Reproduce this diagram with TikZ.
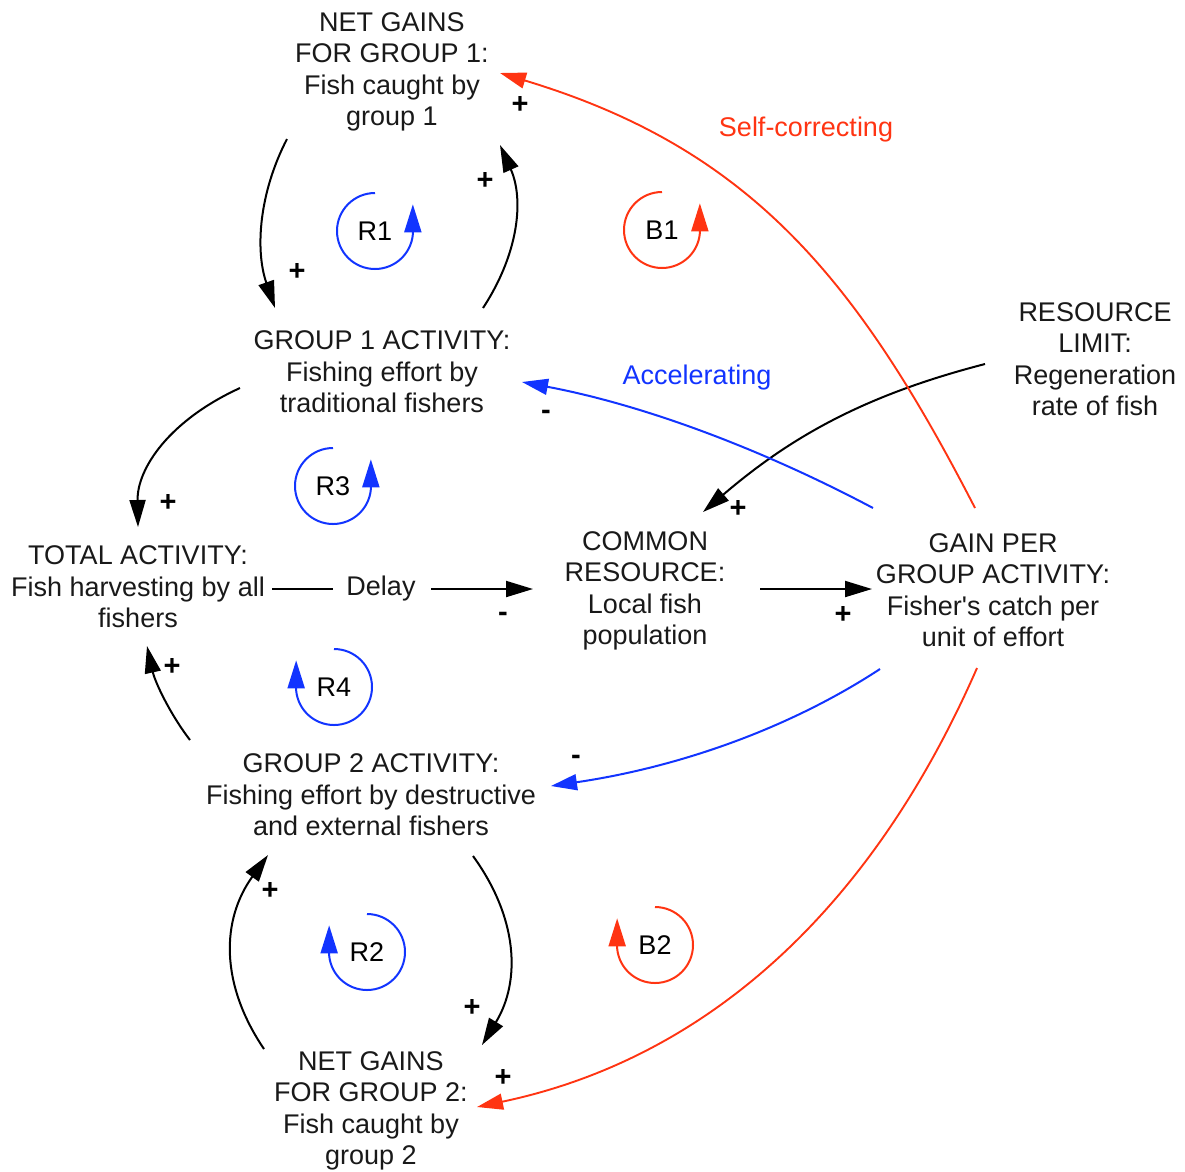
\documentclass[tikz,border=0pt]{standalone}
\usepackage{fontspec}
\setmainfont{Liberation Sans}[Ligatures=TeXOff]
\usetikzlibrary{arrows.meta,calc}
\definecolor{loopred}{RGB}{255,52,18}
\definecolor{loopblue}{RGB}{18,52,255}
\definecolor{ink}{RGB}{25,25,25}
\begin{document}
\begin{tikzpicture}[x=1pt,y=-1pt,
  every node/.style={inner sep=0pt, align=center},
  var/.style={font=\fontsize{27}{31.5}\selectfont, text=ink},
  tag/.style={font=\fontsize{27}{31.5}\selectfont},
  sign/.style={font=\fontsize{29}{29}\selectfont\bfseries, text=black},
  link/.style={line width=2pt, black, -{Triangle[length=27pt,width=16pt]}},
  redlink/.style={line width=1.9pt, loopred, -{Triangle[length=26pt,width=16pt]}},
  bluelink/.style={line width=2pt, loopblue, -{Triangle[length=26pt,width=16pt]}},
  loopmark/.style={line width=2pt, #1, -{Triangle[length=28pt,width=17pt]}},
]
\useasboundingbox (0,0) rectangle (1185,1171);

% ---- variables ----
\node[var] (net1) at (392,72) {NET GAINS\\FOR GROUP 1:\\Fish caught by\\group 1};
\node[var] (g1) at (382,372) {GROUP 1 ACTIVITY:\\Fishing effort by\\traditional fishers};
\node[var] (total) at (138,587) {TOTAL ACTIVITY:\\Fish harvesting by all\\fishers};
\node[var] (delay) at (381,589) {Delay};
\node[var] (common) at (645,591) {COMMON\\RESOURCE:\\Local fish\\population};
\node[var] (gain) at (993,590) {GAIN PER\\GROUP ACTIVITY:\\Fisher's catch per\\unit of effort};
\node[var] (limit) at (1095,359) {RESOURCE\\LIMIT:\\Regeneration\\rate of fish};
\node[var] (g2) at (371,795) {GROUP 2 ACTIVITY:\\Fishing effort by destructive\\and external fishers};
\node[var] (net2) at (371,1111) {NET GAINS\\FOR GROUP 2:\\Fish caught by\\group 2};

% ---- loop labels ----
\node[tag, text=loopred] (selfcorr) at (806,130) {Self-correcting};
\node[tag, text=loopblue] (accel) at (697,378) {Accelerating};

% ---- causal links ----
\draw[link] ($(net1)+(-105,67)$) .. controls (259,193) and (255,250) .. ($(g1)+(-107,-64)$);
\draw[link] ($(g1)+(101,-64)$) .. controls (519,253) and (524,199) .. ($(net1)+(108,73)$);
\draw[link] ($(g1)+(-142,16)$) .. controls (170,420) and (137,468) .. ($(total)+(0,-60)$);
\draw[link] ($(g2)+(-181,-55)$) .. controls (170,714) and (155,682) .. ($(total)+(9,59)$);
\draw[line width=2pt, black] ($(delay)+(-109,0)$) -- ($(delay)+(-48,0)$);
\draw[link] ($(delay)+(50,0)$) -- ($(common)+(-112,-2)$);
\draw[link] ($(common)+(115,-2)$) -- ($(gain)+(-121,-1)$);
\draw[link] ($(limit)+(-110,5)$) .. controls (869,394) and (794,434) .. ($(common)+(58,-79)$);
\draw[link] ($(net2)+(-107,-62)$) .. controls (220,984) and (221,920) .. ($(g2)+(-103,60)$);
\draw[link] ($(g2)+(102,61)$) .. controls (518,918) and (521,981) .. ($(net2)+(111,-66)$);

\draw[bluelink] ($(gain)+(-120,-82)$) .. controls (756,446) and (639,404) .. ($(g1)+(140,10)$);
\draw[bluelink] ($(gain)+(-113,79)$) .. controls (790,728) and (680,767) .. ($(g2)+(180,-9)$);

\draw[redlink] ($(gain)+(-18,-82)$) .. controls (856,277) and (749,148) .. ($(net1)+(108,1)$);
\draw[redlink] ($(gain)+(-16,78)$) .. controls (873,906) and (710,1058) .. ($(net2)+(106,-4)$);

% ---- polarity signs ----
\node[sign] (p1) at (297,272) {+};
\node[sign] (p2) at (485,181) {+};
\node[sign] (p3) at (520,105) {+};
\node[sign] (p4) at (168,503) {+};
\node[sign] (m1) at (546,415) {-};
\node[sign] (p5) at (738,509) {+};
\node[sign] (m2) at (503,617) {-};
\node[sign] (p6) at (843,615) {+};
\node[sign] (p7) at (172,667) {+};
\node[sign] (m3) at (576,760) {-};
\node[sign] (p8) at (270,891) {+};
\node[sign] (p9) at (472,1008) {+};
\node[sign] (p10) at (503,1078) {+};

% ---- loop markers ----
% arrow on the right, turning counter-clockwise
\draw[loopmark=loopblue] (375,231) ++(0,-38) arc[start angle=-90, end angle=-355, radius=38] -- ++(0,-30);
\node[tag] (r1) at (375,231) {R1};
\draw[loopmark=loopred] (662,230) ++(0,-38) arc[start angle=-90, end angle=-355, radius=38] -- ++(0,-30);
\node[tag] (b1) at (662,230) {B1};
\draw[loopmark=loopblue] (333,486) ++(0,-38) arc[start angle=-90, end angle=-355, radius=38] -- ++(0,-30);
\node[tag] (r3) at (333,486) {R3};
% arrow on the left, turning clockwise
\draw[loopmark=loopblue] (334,687) ++(0,-38) arc[start angle=-90, end angle=175, radius=38] -- ++(0,-30);
\node[tag] (r4) at (334,687) {R4};
\draw[loopmark=loopblue] (367,952) ++(0,-38) arc[start angle=-90, end angle=175, radius=38] -- ++(0,-30);
\node[tag] (r2) at (367,952) {R2};
\draw[loopmark=loopred] (655,945) ++(0,-38) arc[start angle=-90, end angle=175, radius=38] -- ++(0,-30);
\node[tag] (b2) at (655,945) {B2};
\end{tikzpicture}
\end{document}
